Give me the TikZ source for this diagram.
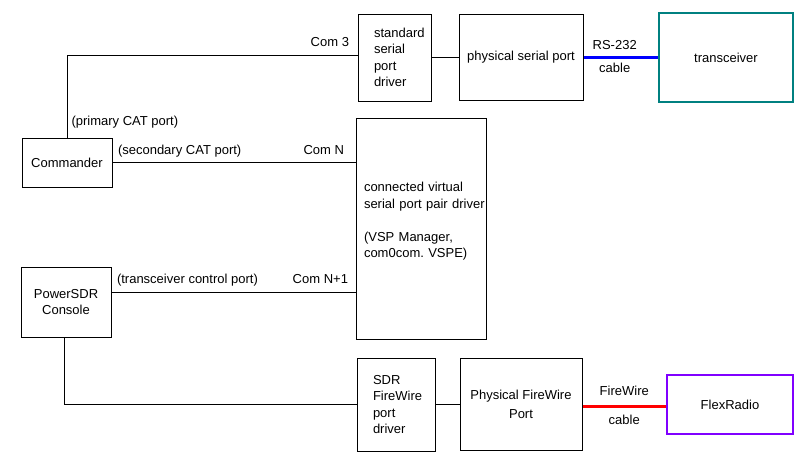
\documentclass[tikz,border=0pt]{standalone}
\usepackage{fontspec}
\setmainfont{Liberation Sans}
\usetikzlibrary{positioning}
\definecolor{trxteal}{RGB}{0,128,128}
\definecolor{flexpurple}{RGB}{128,0,255}
\tikzset{
	box/.style={draw, line width=1pt, align=center, inner sep=2pt, font=\fontsize{13}{16.5}\selectfont},
	wire/.style={line width=1pt},
	lbl/.style={text=black, inner xsep=3pt, inner ysep=5pt, text depth=3pt, font=\fontsize{13}{16.5}\selectfont}
}

\begin{document}
\begin{tikzpicture}[x=1pt, y=-1pt]
			%%%%% START %%%%%
			\useasboundingbox (0,0) rectangle (800,464);
			
			\node[box, minimum width=73pt, minimum height=87pt, text width=41pt, inner xsep=16pt, align=left] (stddrv) at (394.5, 57.5) {standard\\serial\\port\\driver};
			\node[box, minimum width=124pt, minimum height=86pt] (physer) at (521, 57.5) {physical serial port};
			\node[box, draw=trxteal, line width=2.4pt, minimum width=134pt, minimum height=89pt] (trx) at (726, 57.5) {transceiver};
			
			\node[box, minimum width=90pt, minimum height=49pt] (cmd) at (67, 162.5) {Commander};
			\node[box, minimum width=130pt, minimum height=221pt, text width=114pt, inner xsep=7pt, align=left] (vsp) at (421, 228.5) {connected virtual\\\mbox{serial port pair driver}\\[16.5pt](VSP Manager,\\com0com.\ VSPE)\\ \mbox{}};
			
			\node[box, minimum width=90pt, minimum height=70pt] (pwr) at (66, 302) {PowerSDR\\Console};
			
			\node[box, minimum width=78pt, minimum height=93pt, text width=46pt, inner xsep=16pt, align=left] (sdrfw) at (396, 404.5) {SDR\\FireWire\\port\\driver};
			\node[box, minimum width=122pt, minimum height=92pt] (physfw) at (521, 404.5) {Physical FireWire\\[2.5pt]Port};
			\node[box, draw=flexpurple, line width=2pt, minimum width=126pt, minimum height=59pt] (flex) at (730, 404.5) {FlexRadio};
			
			% serial side
			\draw[wire] (cmd.north) |- ([yshift=2.5pt]stddrv.west)
				node[lbl, at start, above right=4pt and 1pt] {(primary CAT port)}
				node[lbl, at end, above left=0pt and 5pt] {Com 3};
			\draw[wire] (stddrv.east) -- (physer.west);
			\draw[line width=3pt, color=blue] (physer.east) -- (trx.west)
				node[lbl, pos=0.42, above=-1pt] {RS-232}
				node[lbl, pos=0.42, below=-1pt] {cable};
			
			% virtual pair
			\draw[wire] (cmd.east) -- (cmd.east -| vsp.west)
				node[lbl, at start, above right=0pt and 2pt] {(secondary CAT port)}
				node[lbl, at end, above left=0pt and 8pt] {Com N};
			\draw[wire] ([yshift=10pt]pwr.east) -- ([yshift=10pt]pwr.east -| vsp.west)
				node[lbl, at start, above right=0pt and 2pt] {(transceiver control port)}
				node[lbl, at end, above left=0pt and 4pt] {Com N+1};
			
			% firewire side
			\draw[wire] ([xshift=-2pt]pwr.south) |- (sdrfw.west);
			\draw[wire] (sdrfw.east) -- (physfw.west);
			\draw[line width=3pt, color=red] ([yshift=-2pt]physfw.east) -- ([yshift=-2pt]physfw.east -| flex.west)
				node[lbl, midway, above=2pt] {FireWire}
				node[lbl, midway, below=2pt] {cable};
			
			%%%%% END %%%%%
		\end{tikzpicture}
\end{document}
